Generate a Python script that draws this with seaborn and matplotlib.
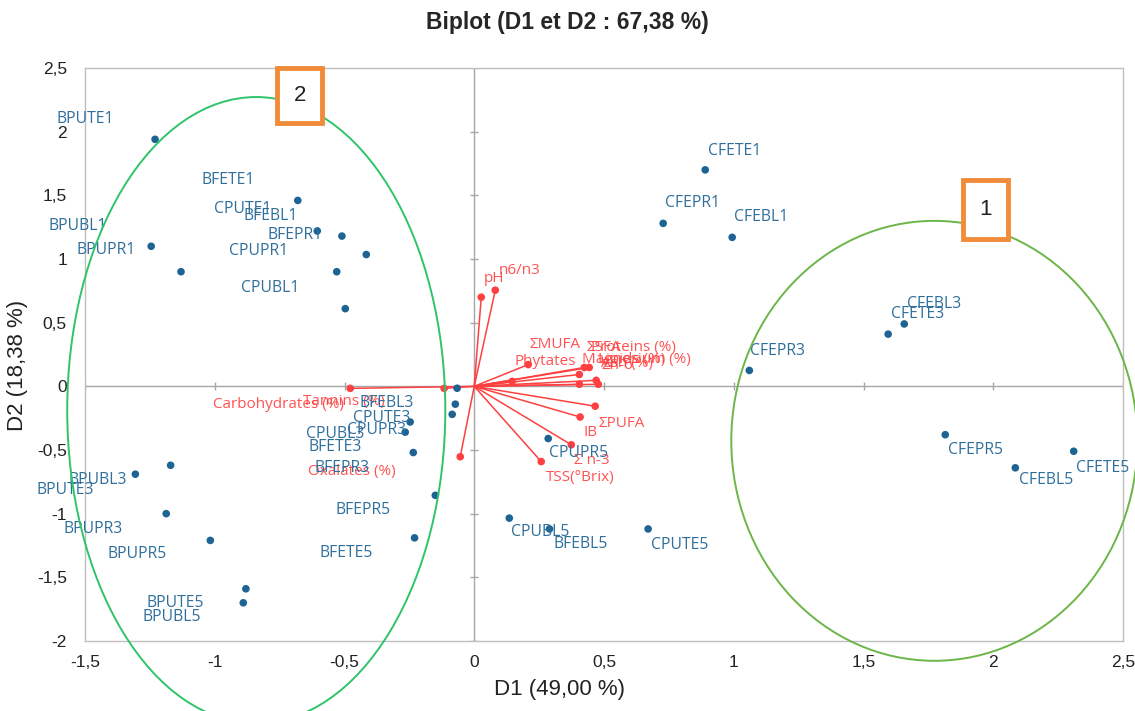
import numpy as np
import pandas as pd
import matplotlib
matplotlib.use("Agg")
import matplotlib.pyplot as plt
from matplotlib.patches import Ellipse, Rectangle
from matplotlib.ticker import FuncFormatter, MultipleLocator
import seaborn as sns

# observations (D1, D2) and where their labels sit
obs_names = ["BPUTE1", "BFETE1", "BFEBL1", "BFEPR1", "CPUTE1", "BPUPR1", "BPUBL1", "CPUPR1", "CPUBL1",
             "BFEBL3", "CPUTE3", "CPUPR3", "CPUBL3", "BFETE3", "BFEPR3", "BFEPR5", "BFETE5",
             "BPUBL3", "BPUTE3", "BPUPR3", "BPUPR5", "BPUTE5", "BPUBL5",
             "CFETE1", "CFEPR1", "CFEBL1", "CFETE3", "CFEBL3", "CFEPR3", "CFEPR5", "CFEBL5", "CFETE5",
             "CPUBL5", "BFEBL5", "CPUTE5", "CPUPR5"]
obs_d1 = [-1.23, -0.68, -0.605, -0.51, -0.416, -1.245, -1.13, -0.53, -0.497,
          -0.066, -0.073, -0.085, -0.247, -0.266, -0.235, -0.15, -0.23,
          -1.306, -1.17, -1.187, -1.017, -0.88, -0.89,
          0.89, 0.728, 0.994, 1.595, 1.657, 1.06, 1.815, 2.085, 2.31,
          0.135, 0.29, 0.67, 0.285]
obs_d2 = [1.94, 1.46, 1.22, 1.18, 1.035, 1.10, 0.90, 0.90, 0.61,
          -0.015, -0.14, -0.22, -0.28, -0.36, -0.52, -0.856, -1.19,
          -0.69, -0.62, -1.00, -1.21, -1.59, -1.70,
          1.70, 1.28, 1.17, 0.41, 0.49, 0.125, -0.38, -0.64, -0.51,
          -1.035, -1.12, -1.12, -0.41]
obs_lab_x = [-1.611, -1.052, -0.890, -0.798, -1.002, -1.534, -1.642, -0.944, -0.898,
             -0.443, -0.466, -0.489, -0.647, -0.640, -0.617, -0.536, -0.597,
             -1.565, -1.688, -1.584, -1.414, -1.264, -1.279,
             0.902, 0.736, 1.002, 1.607, 1.669, 1.064, 1.827, 2.100, 2.320,
             0.143, 0.304, 0.682, 0.289]
obs_lab_y = [2.101, 1.619, 1.339, 1.191, 1.393, 1.074, 1.261, 1.066, 0.770,
             -0.132, -0.249, -0.342, -0.374, -0.475, -0.638, -0.973, -1.307,
             -0.739, -0.817, -1.121, -1.315, -1.704, -1.813,
             1.852, 1.440, 1.331, 0.568, 0.646, 0.280, -0.498, -0.739, -0.638,
             -1.144, -1.237, -1.245, -0.521]

# variables (loadings) and label anchors
var_names = ["pH", "n6/n3", "ΣMUFA", "Phytates", "ΣSFA", "Proteins (%)", "Magnesium (%)",
             "Lipids (%)", "Ash (%)", "Σn-6", "ΣPUFA", "IB", "Σ n-3", "TSS(°Brix)",
             "Oxalates (%)", "Carbohydrates (%)", "Tannins (%)"]
var_d1 = [0.027, 0.081, 0.208, 0.146, 0.424, 0.443, 0.405, 0.470, 0.478, 0.405,
          0.466, 0.408, 0.374, 0.258, -0.054, -0.478, -0.116]
var_d2 = [0.700, 0.755, 0.171, 0.039, 0.148, 0.148, 0.093, 0.047, 0.016, 0.016,
          -0.156, -0.241, -0.459, -0.591, -0.553, -0.016, -0.016]
var_lab_x = [0.035, 0.096, 0.212, 0.154, 0.432, 0.451, 0.416, 0.478, 0.489, 0.489,
             0.478, 0.420, 0.385, 0.277, -0.640, -1.006, -0.659]
var_lab_y = [0.848, 0.911, 0.327, 0.195, 0.304, 0.304, 0.210, 0.210, 0.179, 0.160,
             -0.288, -0.366, -0.584, -0.716, -0.669, -0.140, -0.117]

obs = pd.DataFrame({"D1": obs_d1, "D2": obs_d2})
var = pd.DataFrame({"D1": var_d1, "D2": var_d2})

BLUE = "#1d6393"
BLUE_TXT = "#2f6f9c"
RED = "#ff4040"
GRAY = "#bfbfbf"
ARIAL = ["Liberation Sans", "DejaVu Sans"]

sns.set_theme(style="white")
plt.rcParams["font.family"] = ["Open Sans", "DejaVu Sans"]

fig = plt.figure(figsize=(11.35, 7.11), dpi=100)
ax = fig.add_axes([85 / 1135, 1 - 641 / 711, (1123 - 85) / 1135, (641 - 68) / 711])

ax.set_xlim(-1.5, 2.5)
ax.set_ylim(-2, 2.5)
ax.axhline(0, color="#a6a6a6", lw=1, zorder=1)
ax.axvline(0, color="#a6a6a6", lw=1, zorder=1)
# little tick marks sitting on the zero axes
xt = np.arange(-1.5, 2.51, 0.5)
yt = np.arange(-2, 2.51, 0.5)
ax.plot(xt, np.zeros_like(xt), ls="none", marker="|", ms=6, color="#a6a6a6", zorder=1)
ax.plot(np.zeros_like(yt), yt, ls="none", marker="_", ms=6, color="#a6a6a6", zorder=1)

# variable vectors
for x, y in zip(var_d1, var_d2):
    ax.plot([0, x], [0, y], color=RED, lw=1.1, zorder=2)
sns.scatterplot(data=var, x="D1", y="D2", color=RED, s=30, edgecolor="none", ax=ax, zorder=3)
for n, x, y in zip(var_names, var_lab_x, var_lab_y):
    ax.text(x, y, n, color=RED, fontsize=11, ha="left", va="center", zorder=3, alpha=0.9)

# observations
sns.scatterplot(data=obs, x="D1", y="D2", color=BLUE, s=30, edgecolor="none", ax=ax, zorder=4)
for n, x, y in zip(obs_names, obs_lab_x, obs_lab_y):
    ax.text(x, y, n, color=BLUE_TXT, fontsize=11.3, ha="left", va="center", zorder=4)

ax.xaxis.set_major_locator(MultipleLocator(0.5))
ax.yaxis.set_major_locator(MultipleLocator(0.5))
fmt = FuncFormatter(lambda v, p: ("%g" % v).replace(".", ","))
ax.xaxis.set_major_formatter(fmt)
ax.yaxis.set_major_formatter(fmt)
ax.tick_params(axis="both", length=0, labelsize=12.5, colors="#222222")
ax.tick_params(axis="x", pad=10)
ax.tick_params(axis="y", pad=13)
for lab in ax.get_xticklabels() + ax.get_yticklabels():
    lab.set_family(ARIAL)
for s in ax.spines.values():
    s.set_color(GRAY)
    s.set_linewidth(1)
ax.set_xlabel("")
ax.set_ylabel("")

fig.text(0.5, 1 - 22 / 711, "Biplot (D1 et D2 : 67,38 %)", ha="center", va="center",
         fontsize=16.5, fontweight="bold", family=ARIAL)
fig.text(560 / 1135, 1 - 690 / 711, "D1 (49,00 %)", ha="center", va="center",
         fontsize=16, family=ARIAL, color="#222222")
fig.text(18 / 1135, 1 - 365 / 711, "D2 (18,38 %)", ha="center", va="center", rotation=90,
         fontsize=16, family=ARIAL, color="#222222")

# group ellipses and numbered boxes drawn over the chart
ax.add_patch(Ellipse((-0.840, -0.187), 1.457, 4.918, fill=False, ec="#2fc46a", lw=1.4,
                     clip_on=False, zorder=5))
ax.add_patch(Ellipse((1.773, -0.428), 1.565, 3.455, fill=False, ec="#6cb548", lw=1.4,
                     clip_on=False, zorder=5))
for (x0, y0, w, h, t) in [(-0.759, 2.070, 0.173, 0.428, "2"), (1.884, 1.160, 0.174, 0.459, "1")]:
    ax.add_patch(Rectangle((x0, y0), w, h, fc="white", ec="#f28c3a", lw=3.5,
                           clip_on=False, zorder=6))
    ax.text(x0 + w / 2, y0 + h / 2, t, ha="center", va="center", fontsize=16,
            color="#222222", zorder=7, family=ARIAL)

fig.savefig("out.png", dpi=100)
plt.close(fig)
